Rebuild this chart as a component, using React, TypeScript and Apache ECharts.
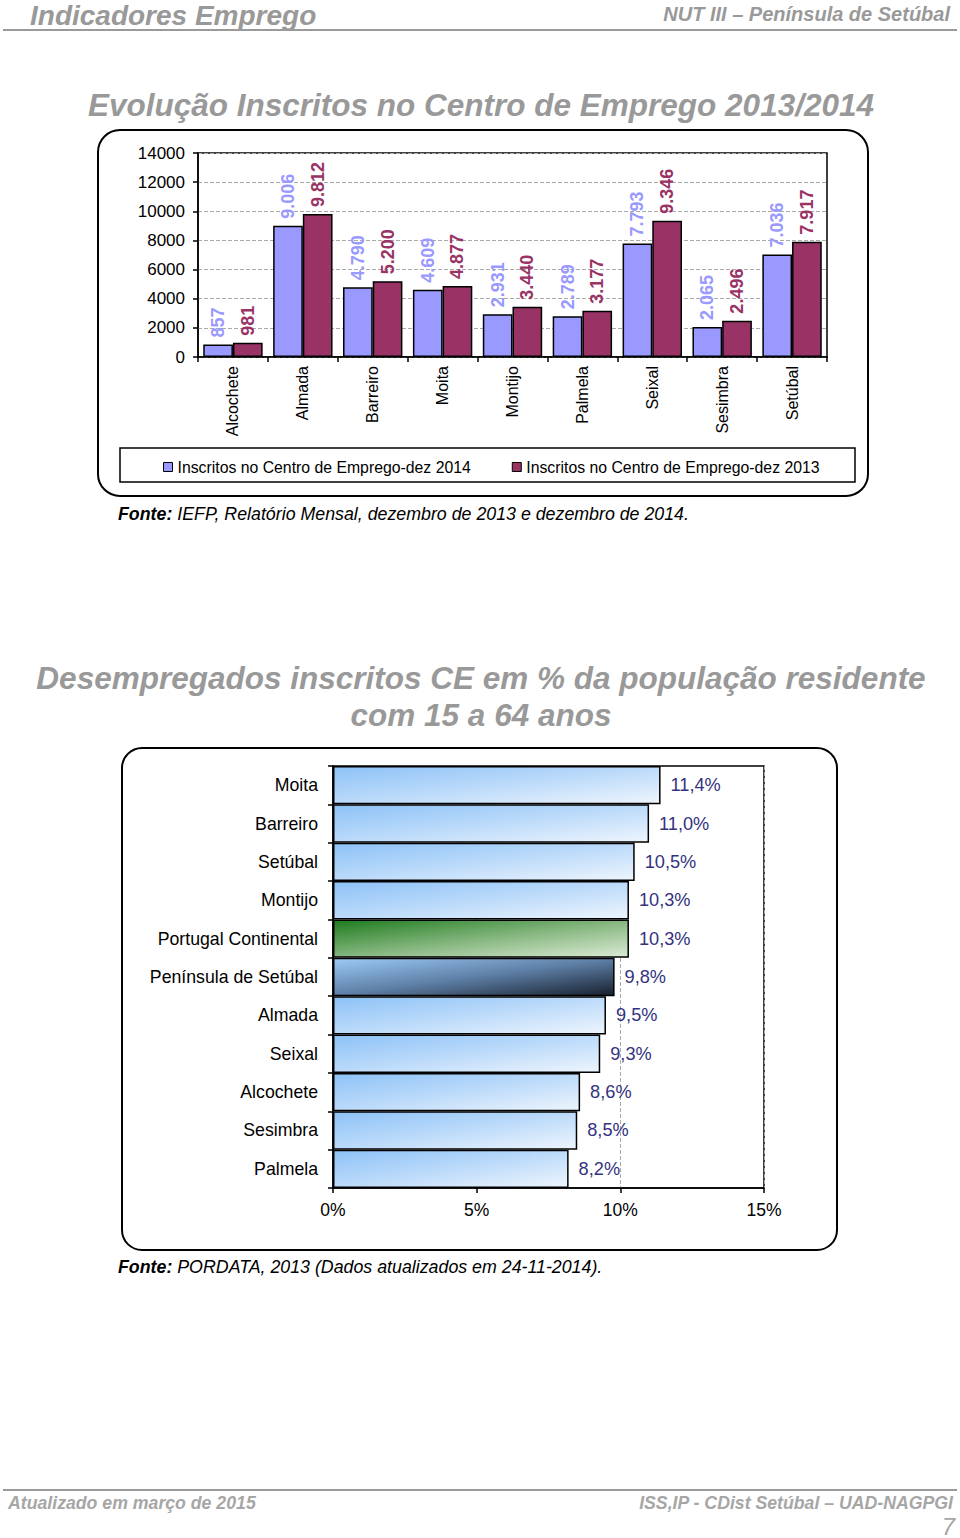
import React, { useEffect, useRef } from "react";
import * as echarts from "echarts";

const municipalities = ["Alcochete", "Almada", "Barreiro", "Moita", "Montijo", "Palmela", "Seixal", "Sesimbra", "Setúbal"];
const inscritos2014 = [857, 9006, 4790, 4609, 2931, 2789, 7793, 2065, 7036];
const inscritos2013 = [981, 9812, 5200, 4877, 3440, 3177, 9346, 2496, 7917];
const seriesNames = ["Inscritos no Centro de Emprego-dez 2014", "Inscritos no Centro de Emprego-dez 2013"];
const yTicks1 = { min: 0, max: 14000, interval: 2000 };

const regions = ["Moita", "Barreiro", "Setúbal", "Montijo", "Portugal Continental", "Península de Setúbal", "Almada", "Seixal", "Alcochete", "Sesimbra", "Palmela"];
const desempregoPct = [11.4, 11.0, 10.5, 10.3, 10.3, 9.8, 9.5, 9.3, 8.6, 8.5, 8.2];
const xTicks2 = { min: 0, max: 15, interval: 5 };

const FONT = '"Liberation Sans", Arial, sans-serif';
const GRAY = "#999999";

function fmtThousands(n: number): string {
  if (n >= 1000) {
    return Math.floor(n / 1000) + "." + String(n % 1000).padStart(3, "0");
  }
  return String(n);
}

function gradientFor(name: string) {
  if (name === "Portugal Continental") {
    return new echarts.graphic.LinearGradient(0, 0, 1, 1, [
      { offset: 0, color: "#1E7B1E" },
      { offset: 0.55, color: "#8DBB86" },
      { offset: 1, color: "#DCEBD6" },
    ]);
  }
  if (name === "Península de Setúbal") {
    return new echarts.graphic.LinearGradient(0, 0, 1, 1, [
      { offset: 0, color: "#9CCBF7" },
      { offset: 0.5, color: "#5E7FA6" },
      { offset: 1, color: "#17202E" },
    ]);
  }
  return new echarts.graphic.LinearGradient(0, 0, 1, 1, [
    { offset: 0, color: "#8DC2F7" },
    { offset: 0.5, color: "#BBDAFA" },
    { offset: 1, color: "#EEF5FD" },
  ]);
}

function txt(x: number, y: number, text: string, font: string, fill: string, align = "left", extra: any = {}) {
  return {
    type: "text",
    x,
    y,
    silent: true,
    style: { text, font, fill, textAlign: align, textVerticalAlign: "middle", ...extra },
  };
}

export default function App() {
  const ref = useRef<HTMLDivElement>(null);

  useEffect(() => {
    if (!ref.current) return;
    const chart = echarts.init(ref.current, undefined, { renderer: "svg" });

    const axisLineStyle = { color: "#000", width: 1.5 };
    const fonteRich = { b: { fontWeight: "bold", fontStyle: "italic", fontSize: 17.8, fontFamily: FONT, fill: "#000" } };

    const barLabel = (color: string) => ({
      show: true,
      position: "top",
      rotate: 90,
      align: "left",
      verticalAlign: "middle",
      distance: 7,
      fontSize: 18,
      fontWeight: "bold",
      color,
      fontFamily: FONT,
      formatter: (p: any) => fmtThousands(p.value),
    });

    const option: any = {
      animation: false,
      textStyle: { fontFamily: FONT },
      legend: {
        data: seriesNames,
        left: 158,
        top: 454,
        itemWidth: 9,
        itemHeight: 9,
        itemGap: 41,
        icon: "rect",
        selectedMode: false,
        itemStyle: { borderColor: "#000", borderWidth: 1 },
        textStyle: { fontSize: 15.8, color: "#000", fontFamily: FONT },
      },
      grid: [
        { left: 198, top: 153, width: 629, height: 204, show: true, borderColor: "#000", borderWidth: 1.5, backgroundColor: "transparent" },
        { left: 333, top: 766, width: 431, height: 422, show: true, borderColor: "#000", borderWidth: 1.5, backgroundColor: "transparent" },
      ],
      xAxis: [
        {
          gridIndex: 0,
          type: "category",
          data: municipalities,
          axisLine: { lineStyle: axisLineStyle },
          axisTick: { show: true, length: 5, lineStyle: axisLineStyle },
          axisLabel: { rotate: 90, fontSize: 16, color: "#000", margin: 9, fontFamily: FONT },
        },
        {
          gridIndex: 1,
          type: "value",
          min: xTicks2.min,
          max: xTicks2.max,
          interval: xTicks2.interval,
          axisLine: { show: true, lineStyle: axisLineStyle },
          axisTick: { show: true, length: 5, lineStyle: axisLineStyle },
          axisLabel: { formatter: "{value}%", fontSize: 17.5, color: "#000", margin: 13, fontFamily: FONT },
          splitLine: { show: true, lineStyle: { type: "dashed", color: "#aaaaaa" } },
        },
      ],
      yAxis: [
        {
          gridIndex: 0,
          type: "value",
          min: yTicks1.min,
          max: yTicks1.max,
          interval: yTicks1.interval,
          axisLine: { show: true, lineStyle: axisLineStyle },
          axisTick: { show: true, length: 5, lineStyle: axisLineStyle },
          axisLabel: { fontSize: 17, color: "#000", margin: 13, fontFamily: FONT, formatter: (v: number) => String(v) },
          splitLine: { show: true, lineStyle: { type: "dashed", color: "#aaaaaa" } },
        },
        {
          gridIndex: 1,
          type: "category",
          data: regions,
          inverse: true,
          axisLine: { show: true, lineStyle: axisLineStyle },
          axisTick: { show: true, length: 5, lineStyle: axisLineStyle },
          axisLabel: { fontSize: 17.7, color: "#000", margin: 15, fontFamily: FONT },
        },
      ],
      series: [
        {
          name: seriesNames[0],
          type: "bar",
          xAxisIndex: 0,
          yAxisIndex: 0,
          data: inscritos2014,
          barGap: "0%",
          barCategoryGap: "15%",
          itemStyle: { color: "#9999FF", borderColor: "#000", borderWidth: 1.5 },
          label: barLabel("#9999FF"),
        },
        {
          name: seriesNames[1],
          type: "bar",
          xAxisIndex: 0,
          yAxisIndex: 0,
          data: inscritos2013,
          barGap: "0%",
          barCategoryGap: "15%",
          itemStyle: { color: "#993366", borderColor: "#000", borderWidth: 1.5 },
          label: barLabel("#993366"),
        },
        {
          name: "Desempregados inscritos CE",
          type: "bar",
          xAxisIndex: 1,
          yAxisIndex: 1,
          barCategoryGap: "0%",
          data: desempregoPct.map((v, i) => ({ value: v, itemStyle: { color: gradientFor(regions[i]) } })),
          itemStyle: { borderColor: "#000", borderWidth: 1.5 },
          label: {
            show: true,
            position: "right",
            distance: 10,
            fontSize: 18.2,
            color: "#333380",
            fontFamily: FONT,
            formatter: (p: any) => p.value.toFixed(1).replace(".", ",") + "%",
          },
        },
      ],
      graphic: [
        txt(30, 15, "Indicadores Emprego", `italic bold 28px ${FONT}`, GRAY),
        txt(950, 14, "NUT III – Península de Setúbal", `italic bold 20px ${FONT}`, GRAY, "right"),
        { type: "line", silent: true, shape: { x1: 3, y1: 30, x2: 957, y2: 30 }, style: { stroke: "#9a9a9a", lineWidth: 2 } },
        txt(481, 105, "Evolução Inscritos no Centro de Emprego 2013/2014", `italic bold 31.5px ${FONT}`, GRAY, "center"),
        { type: "rect", silent: true, shape: { x: 98, y: 130, width: 770, height: 366, r: 22 }, style: { fill: "none", stroke: "#000", lineWidth: 2 } },
        { type: "rect", silent: true, shape: { x: 120, y: 448, width: 735, height: 34 }, style: { fill: "none", stroke: "#000", lineWidth: 1.5 } },
        txt(118, 514, "{b|Fonte:} IEFP, Relatório Mensal, dezembro de 2013 e dezembro de 2014.", `italic 17.8px ${FONT}`, "#000", "left", {
          rich: fonteRich,
        }),
        txt(481, 678, "Desempregados inscritos CE em % da população residente", `italic bold 31.5px ${FONT}`, GRAY, "center"),
        txt(481, 715, "com 15 a 64 anos", `italic bold 31.5px ${FONT}`, GRAY, "center"),
        { type: "rect", silent: true, shape: { x: 122, y: 748, width: 715, height: 502, r: 20 }, style: { fill: "none", stroke: "#000", lineWidth: 2 } },
        txt(118, 1267, "{b|Fonte:} PORDATA, 2013 (Dados atualizados em 24-11-2014).", `italic 17.8px ${FONT}`, "#000", "left", {
          rich: fonteRich,
        }),
        { type: "line", silent: true, shape: { x1: 3, y1: 1490, x2: 957, y2: 1490 }, style: { stroke: "#9a9a9a", lineWidth: 2 } },
        txt(8, 1503, "Atualizado em março de 2015", `italic bold 17.7px ${FONT}`, "#A6A6A6"),
        txt(953, 1503, "ISS,IP - CDist Setúbal – UAD-NAGPGI", `italic bold 17.7px ${FONT}`, "#A6A6A6", "right"),
        txt(955, 1526, "7", `italic 24px ${FONT}`, "#A6A6A6", "right"),
      ],
    };

    chart.setOption(option);
    return () => chart.dispose();
  }, []);

  return (
    <div
      ref={ref}
      style={{ position: "absolute", left: 0, top: 0, width: 960, height: 1538, background: "#fff" }}
    />
  );
}
